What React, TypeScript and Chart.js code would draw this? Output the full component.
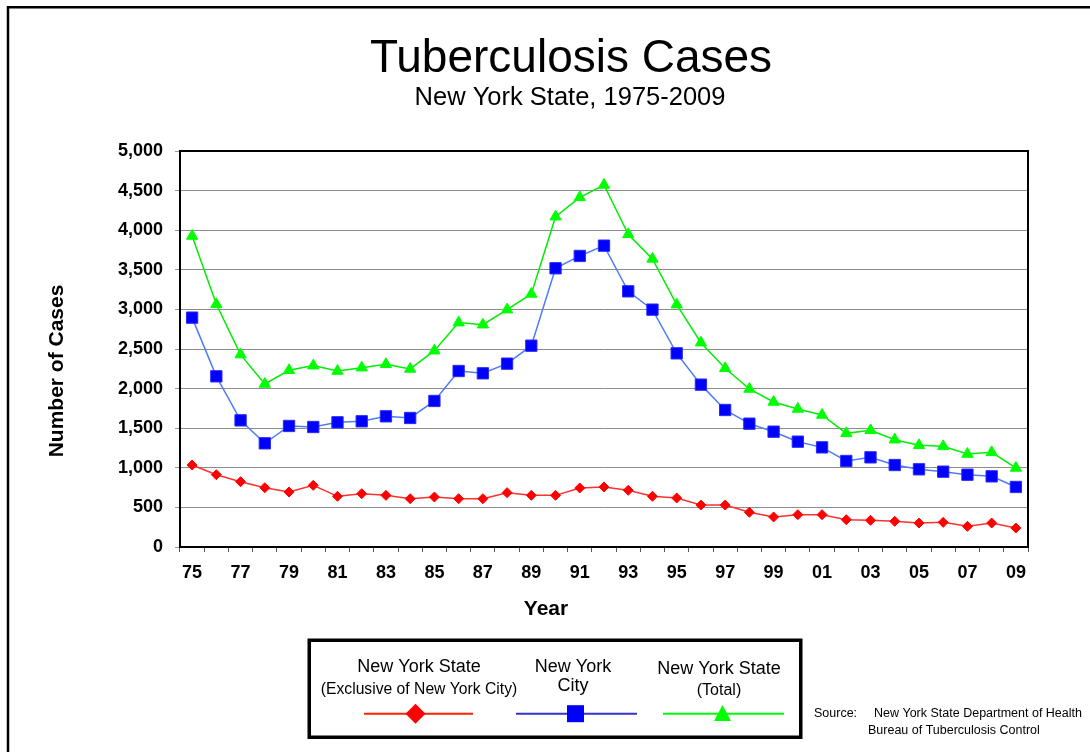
import React, { useEffect, useRef } from 'react';
import { Chart, registerables } from 'chart.js';

Chart.register(...registerables);

// ---- Data ----
const years: string[] = [
  '75', '76', '77', '78', '79', '80', '81', '82', '83', '84', '85', '86',
  '87', '88', '89', '90', '91', '92', '93', '94', '95', '96', '97', '98',
  '99', '00', '01', '02', '03', '04', '05', '06', '07', '08', '09',
];

const nysExclusiveOfNyc: number[] = [
  1035, 913, 825, 749, 694, 779, 640, 673, 652, 610, 631, 610,
  610, 686, 652, 652, 745, 758, 716, 640, 619, 530, 530, 438,
  379, 408, 408, 345, 337, 324, 303, 311, 261, 303, 240,
];

const newYorkCity: number[] = [
  2896, 2155, 1599, 1309, 1528, 1515, 1574, 1587, 1650, 1629, 1844, 2222,
  2193, 2315, 2542, 3519, 3675, 3805, 3228, 2997, 2445, 2050, 1730, 1557,
  1456, 1330, 1258, 1086, 1132, 1035, 981, 951, 913, 892, 758,
];

const nysTotal: number[] = [
  3927, 3064, 2429, 2058, 2231, 2290, 2222, 2264, 2307, 2248, 2479, 2833,
  2807, 2997, 3195, 4171, 4415, 4571, 3948, 3637, 3060, 2580, 2256, 1995,
  1831, 1743, 1667, 1435, 1473, 1355, 1284, 1271, 1174, 1195, 998,
];

const yMin = 0;
const yMax = 5000;
const yStep = 500;

const titleText = 'Tuberculosis Cases';
const subtitleText = 'New York State, 1975-2009';
const xAxisTitle = 'Year';
const yAxisTitle = 'Number of Cases';

const legendTexts: string[][] = [
  ['New York State', '(Exclusive of New York City)'],
  ['New York', 'City'],
  ['New York State', '(Total)'],
];

const sourceLines = ['New York State Department of Health', 'Bureau of Tuberculosis Control'];

const FONT = '"Liberation Sans", Arial, Helvetica, sans-serif';

export default function App() {
  const canvasRef = useRef<HTMLCanvasElement>(null);

  useEffect(() => {
    const canvas = canvasRef.current;
    if (!canvas) return;

    const decor = {
      id: 'decor',
      beforeDatasetsDraw(chart: any) {
        const { ctx, chartArea: a } = chart;
        ctx.save();
        ctx.strokeStyle = '#000';
        ctx.lineWidth = 2;
        ctx.strokeRect(a.left, a.top, a.right - a.left, a.bottom - a.top);
        ctx.restore();
      },
      afterDraw(chart: any) {
        const ctx: CanvasRenderingContext2D = chart.ctx;
        ctx.save();

        // outer frame (top + left only visible)
        ctx.strokeStyle = '#000';
        ctx.lineWidth = 2.5;
        ctx.beginPath();
        ctx.moveTo(8, 800);
        ctx.lineTo(8, 7.3);
        ctx.lineTo(1200, 7.3);
        ctx.stroke();

        // titles
        ctx.fillStyle = '#000';
        ctx.textAlign = 'center';
        ctx.textBaseline = 'alphabetic';
        ctx.font = `46px ${FONT}`;
        ctx.fillText(titleText, 571, 72);
        ctx.font = `25.5px ${FONT}`;
        ctx.fillText(subtitleText, 570, 105);

        // axis titles
        ctx.font = `bold 21px ${FONT}`;
        ctx.fillText(xAxisTitle, 546, 615);
        ctx.save();
        ctx.translate(63, 371);
        ctx.rotate(-Math.PI / 2);
        ctx.fillText(yAxisTitle, 0, 0);
        ctx.restore();

        // legend box
        ctx.lineWidth = 3.5;
        ctx.strokeStyle = '#000';
        ctx.strokeRect(309.25, 640.25, 491.5, 97);

        // legend texts
        ctx.font = `18px ${FONT}`;
        ctx.fillText(legendTexts[0][0], 419, 672);
        ctx.font = `15.7px ${FONT}`;
        ctx.fillText(legendTexts[0][1], 419, 694);
        ctx.font = `18px ${FONT}`;
        ctx.fillText(legendTexts[1][0], 573, 672);
        ctx.fillText(legendTexts[1][1], 573, 691);
        ctx.fillText(legendTexts[2][0], 719, 674);
        ctx.font = `16px ${FONT}`;
        ctx.fillText(legendTexts[2][1], 719, 695);

        const ly = 713.7;
        ctx.lineWidth = 2;
        // red
        ctx.strokeStyle = '#FF2000';
        ctx.beginPath(); ctx.moveTo(364, ly); ctx.lineTo(473, ly); ctx.stroke();
        ctx.fillStyle = '#FF0000';
        ctx.beginPath();
        ctx.moveTo(415.5, ly - 10); ctx.lineTo(425.5, ly); ctx.lineTo(415.5, ly + 10); ctx.lineTo(405.5, ly);
        ctx.closePath(); ctx.fill();
        // blue
        ctx.strokeStyle = '#3333CC';
        ctx.beginPath(); ctx.moveTo(516, ly); ctx.lineTo(637, ly); ctx.stroke();
        ctx.fillStyle = '#0000FF';
        ctx.fillRect(567, ly - 8.5, 17, 17);
        // green
        ctx.strokeStyle = '#00FF00';
        ctx.beginPath(); ctx.moveTo(663, ly); ctx.lineTo(784, ly); ctx.stroke();
        ctx.fillStyle = '#00FF00';
        ctx.beginPath();
        ctx.moveTo(722.5, 705); ctx.lineTo(731, 721); ctx.lineTo(714, 721);
        ctx.closePath(); ctx.fill();

        // source
        ctx.fillStyle = '#000';
        ctx.textAlign = 'left';
        ctx.font = `12.5px ${FONT}`;
        ctx.fillText('Source:', 814, 717);
        ctx.fillText(sourceLines[0], 874, 717);
        ctx.fillText(sourceLines[1], 868, 734);

        ctx.restore();
      },
    };

    const chart = new Chart(canvas, {
      type: 'line',
      data: {
        labels: years,
        datasets: [
          {
            label: 'New York State (Exclusive of New York City)',
            data: nysExclusiveOfNyc,
            borderColor: '#FF3030',
            backgroundColor: '#FF0000',
            borderWidth: 1.5,
            pointStyle: 'rectRot',
            pointRadius: 5,
            pointBorderColor: '#FF0000',
            pointBackgroundColor: '#FF0000',
            pointBorderWidth: 1,
            tension: 0,
          },
          {
            label: 'New York City',
            data: newYorkCity,
            borderColor: '#4D7DF5',
            backgroundColor: '#0000FF',
            borderWidth: 1.5,
            pointStyle: 'rect',
            pointRadius: 8,
            pointBorderColor: '#2a2aff',
            pointBackgroundColor: '#0000FF',
            pointBorderWidth: 1,
            tension: 0,
          },
          {
            label: 'New York State (Total)',
            data: nysTotal,
            borderColor: '#00EE00',
            backgroundColor: '#00FF00',
            borderWidth: 1.5,
            pointStyle: 'triangle',
            pointRadius: 6.5,
            pointBorderColor: '#00FF00',
            pointBackgroundColor: '#00FF00',
            pointBorderWidth: 1,
            tension: 0,
          },
        ],
      },
      options: {
        responsive: false,
        animation: false,
        devicePixelRatio: 1,
        layout: { padding: { left: 0, top: 151, right: 62, bottom: 165 } },
        plugins: {
          legend: { display: false },
          tooltip: { enabled: false },
          title: { display: false },
        },
        scales: {
          x: {
            type: 'category',
            offset: true,
            grid: {
              offset: true,
              drawOnChartArea: false,
              drawTicks: true,
              tickLength: 5,
              color: '#000',
              tickColor: '#555',
            },
            border: { display: true, color: '#000', width: 2 },
            ticks: {
              autoSkip: false,
              maxRotation: 0,
              minRotation: 0,
              padding: 10,
              color: '#000',
              font: { family: FONT, size: 18, weight: 'bold' },
              callback: (_v: any, i: number) => (i % 2 === 0 ? years[i] : ''),
            },
            afterFit: (s: any) => {
              s.height = 40;
            },
          },
          y: {
            min: yMin,
            max: yMax,
            grid: {
              color: '#8c8c8c',
              lineWidth: 1,
              drawTicks: true,
              tickLength: 5,
              tickColor: '#999',
            },
            border: { display: true, color: '#000', width: 2 },
            ticks: {
              stepSize: yStep,
              padding: 12,
              color: '#000',
              font: { family: FONT, size: 18, weight: 'bold' },
              callback: (v: any) => Number(v).toLocaleString('en-US'),
            },
            afterFit: (s: any) => {
              s.width = 180;
            },
          },
        },
      },
      plugins: [decor],
    } as any);

    return () => {
      chart.destroy();
    };
  }, []);

  return (
    <div style={{ position: 'absolute', left: 0, top: 0, width: 1090, height: 752, background: '#fff' }}>
      <canvas ref={canvasRef} width={1090} height={752} style={{ display: 'block' }} />
    </div>
  );
}
